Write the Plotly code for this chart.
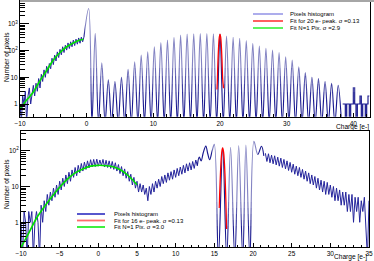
import plotly.graph_objects as go

W, H = 374, 261


def fx(px):
    return px / W


def fy(py):
    return 1 - py / H


# ---------------- DATA ----------------
# top panel: noisy pedestal region, bins of 0.2 e- starting at -10
top_left_start = -10.0
top_left_binw = 0.2
top_left_counts = [1, 0, 2, 1, 3, 0, 2, 4, 1, 3,
                   5, 2, 6, 3, 9, 4, 13, 7, 19, 10,
                   26, 14, 33, 21, 52, 30, 68, 41, 90, 55,
                   112, 70, 140, 85, 160, 105, 195, 120, 215, 140,
                   250, 155, 270, 175, 300, 190, 320, 215, 330]

# top panel: single-electron peaks (position, height) and valleys between them
top_peak_x = [0.3, 1.28, 2.27, 3.25, 4.24, 5.22, 6.21, 7.2, 8.18, 9.16,
              10.15, 11.13, 12.12, 13.1, 14.09, 15.07, 16.06, 17.04, 18.03, 19.01,
              20.0, 20.98, 21.97, 22.95, 23.94, 24.92, 25.9, 26.89, 27.88, 28.86,
              29.85, 30.83, 31.82, 32.8, 33.79, 34.77, 35.76, 36.74, 37.73]
top_peak_counts = [3800, 445, 35, 8, 7, 10, 20, 38, 68, 91,
                   140, 200, 250, 315, 380, 420, 430, 440, 440, 430,
                   420, 355, 316, 290, 237, 188, 150, 122, 105, 84,
                   59, 44, 25, 15, 10, 9, 7, 6, 5]
top_valley_x = [0.79, 1.77, 2.76, 3.74, 4.73, 5.71, 6.7, 7.69, 8.67, 9.66,
                10.64, 11.63, 12.61, 13.6, 14.58, 15.57, 16.55, 17.54, 18.52, 19.5,
                20.49, 21.47, 22.46, 23.44, 24.43, 25.41, 26.4, 27.38, 28.37, 29.35,
                30.34, 31.32, 32.31, 33.29, 34.28, 35.26, 36.25, 37.23, 38.22]
top_valley_counts = [0, 0, 0, 0, 0, 0, 0, 0, 0, 0,
                     0, 0, 0, 0, 0, 0, 0, 0, 0, 0,
                     0, 0, 0, 0, 0, 0, 0, 0, 0, 0,
                     0, 0, 0, 0, 0, 0, 0, 0, 0]
# top panel: tail (bins of 0.2 e- from 38.4)
top_tail_start = 38.4
top_tail_counts = [1, 1, 0, 1, 1, 0, 1, 1, 4, 1, 0, 1, 1, 2, 0, 1, 1, 0, 1, 2, 2]

# top panel fits
top_red_x = [19.54, 19.6, 19.7, 19.8, 19.9, 20.0, 20.1, 20.2, 20.3, 20.4, 20.54]
top_red_y = [3.5, 7.3, 43, 153, 325, 420, 325, 153, 43, 9, 3.9]
top_green_x = [-10, -9, -8, -7, -6, -5, -4, -3, -2, -1, -0.5]
top_green_y = [0.65, 1.4, 2.8, 7.5, 18, 45, 85, 140, 195, 250, 270]

# bottom panel: noisy region left of the peaks, bins of 0.2 e- from -10
bot_left_start = -10.0
bot_left_binw = 0.2
bot_left_counts = [1, 0, 2, 1, 0, 2, 1, 2, 0, 1,
                   2, 1, 0, 3, 1, 4, 2, 6, 3, 7,
                   4, 9, 5, 11, 6, 14, 8, 17, 10, 21,
                   12, 25, 14, 29, 18, 34, 20, 39, 24, 44,
                   27, 48, 30, 52, 33, 56, 35, 57, 36, 58,
                   37, 55, 38, 57, 35, 54, 34, 52, 32, 50,
                   30, 46, 27, 41, 23, 36, 20, 31, 17, 26,
                   14, 22, 11, 18, 9, 14, 7, 12, 7, 11,
                   6, 9, 4, 10, 6, 12, 7, 14, 9, 16,
                   10, 19, 12, 21, 13, 24, 15, 26, 16, 29,
                   18, 32, 20, 35, 22, 39, 24, 43, 27, 46,
                   29, 50, 32, 55, 38]
# bottom panel: peak region
bot_osc_x = [12.8, 13.05, 13.3, 13.55, 13.9, 14.15, 14.4, 14.7, 15.0, 15.52,
             16.08, 16.6, 17.1, 17.65, 18.15, 18.68, 19.08, 19.6, 20.12, 20.62,
             21.1, 21.4]
bot_osc_y = [38, 66, 52, 85, 134, 82, 56, 95, 150, 0,
             119, 0, 124, 0, 140, 0, 144, 0, 183, 78,
             133, 72]
# bottom panel: noisy region right of the peaks, bins of 0.2 e- from 21.6
bot_right_start = 21.6
bot_right_counts = [85, 50, 82, 46, 75, 43, 72, 40, 66, 37,
                    62, 34, 57, 31, 52, 28, 47, 25, 42, 22,
                    37, 20, 34, 18, 30, 16, 27, 14, 24, 12,
                    21, 11, 19, 9, 17, 8, 15, 7, 14, 6,
                    13, 6, 11, 5, 10, 4, 9, 4, 8, 3,
                    7, 3, 7, 2, 6, 2, 6, 1, 5, 2,
                    5, 1, 4, 2, 5, 1, 0, 4]
# bottom panel fits
bot_red_x = [15.62, 15.7, 15.8, 15.9, 16.0, 16.08, 16.2, 16.3, 16.4, 16.5, 16.58]
bot_red_y = [2.5, 7, 25, 63, 106, 119, 90, 46, 16, 3.8, 0.65]
bot_green_x = [-10, -9, -8, -7, -6, -5, -4, -3, -2, -1, 0, 1, 2, 3, 4, 5]
bot_green_y = [0.2, 0.5, 1.3, 2.7, 5.2, 9.5, 16, 24, 31, 37, 39, 38, 35, 28, 19, 11.2]

top_legend = ["Pixels histogram", "Fit for 20 e- peak. σ =0.13", "Fit N=1 Pix. σ =2.9"]
bot_legend = ["Pixels histogram", "Fit for 16 e- peak. σ =0.13", "Fit N=1 Pix. σ =3.0"]
y_ticks = [1, 10, 100, 1000]
y_ticktext = ["1", "10", "10<sup>2</sup>", "10<sup>3</sup>"]
y_minor = [0.3, 0.4, 0.5, 0.6, 0.7, 0.8, 0.9, 2, 3, 4, 5, 6, 7, 8, 9,
           20, 30, 40, 50, 60, 70, 80, 90, 200, 300, 400, 500, 600, 700, 800, 900,
           2000, 3000, 4000, 5000, 6000]

# ---------------- helpers ----------------
def lift(vals, floor):
    return [v if v > 0 else floor for v in vals]


def bins(start, w, n):
    return [round(start + i * w, 4) for i in range(n)]


def interleave(a, b):
    out = []
    for i in range(len(a)):
        out.append(a[i])
        if i < len(b):
            out.append(b[i])
    return out


FLOOR_T = 0.2
FLOOR_B = 0.1
DARK = "#18188e"
NOISE = "#24249c"

top_dom_x = [fx(20), fx(370)]
top_dom_y = [fy(116.7), fy(1.0)]
top_rng = [-0.476, 3.862]
bot_dom_x = [fx(21), fx(369)]
bot_dom_y = [fy(247), fy(131)]
bot_rng = [-0.69, 2.55]

fig = go.Figure()

# ---- top panel ----
osc_x = [-0.4] + interleave(top_peak_x, top_valley_x)
osc_y = [top_left_counts[-1]] + interleave(top_peak_counts, top_valley_counts)
fig.add_trace(go.Scatter(x=osc_x, y=lift(osc_y, FLOOR_T), mode="lines",
                         line=dict(color=DARK, width=1.15, shape="spline", smoothing=1),
                         xaxis="x", yaxis="y", hoverinfo="skip"))
fig.add_trace(go.Scatter(x=bins(top_left_start, top_left_binw, len(top_left_counts)),
                         y=lift(top_left_counts, FLOOR_T), mode="lines",
                         line=dict(color=NOISE, width=1.0),
                         xaxis="x", yaxis="y", hoverinfo="skip"))
fig.add_trace(go.Scatter(x=bins(top_tail_start, 0.2, len(top_tail_counts)),
                         y=lift(top_tail_counts, FLOOR_T), mode="lines",
                         line=dict(color=DARK, width=1.2, shape="hv"),
                         xaxis="x", yaxis="y", hoverinfo="skip"))
fig.add_trace(go.Scatter(x=top_green_x, y=top_green_y, mode="lines",
                         line=dict(color="#00e000", width=1.6, shape="spline"),
                         xaxis="x", yaxis="y", hoverinfo="skip"))
fig.add_trace(go.Scatter(x=top_red_x, y=top_red_y, mode="lines",
                         line=dict(color="#ff0000", width=1.3, shape="spline"),
                         xaxis="x", yaxis="y", hoverinfo="skip"))

# ---- bottom panel ----
fig.add_trace(go.Scatter(x=bins(bot_left_start, bot_left_binw, len(bot_left_counts)),
                         y=lift(bot_left_counts, FLOOR_B), mode="lines",
                         line=dict(color=NOISE, width=1.0),
                         xaxis="x2", yaxis="y2", hoverinfo="skip"))
fig.add_trace(go.Scatter(x=bot_osc_x, y=lift(bot_osc_y, FLOOR_B), mode="lines",
                         line=dict(color=DARK, width=1.15, shape="spline"),
                         xaxis="x2", yaxis="y2", hoverinfo="skip"))
fig.add_trace(go.Scatter(x=bins(bot_right_start, 0.2, len(bot_right_counts)),
                         y=lift(bot_right_counts, FLOOR_B), mode="lines",
                         line=dict(color=NOISE, width=1.0),
                         xaxis="x2", yaxis="y2", hoverinfo="skip"))
fig.add_trace(go.Scatter(x=bot_green_x, y=bot_green_y, mode="lines",
                         line=dict(color="#00e000", width=1.6, shape="spline"),
                         xaxis="x2", yaxis="y2", hoverinfo="skip"))
fig.add_trace(go.Scatter(x=bot_red_x, y=bot_red_y, mode="lines",
                         line=dict(color="#ff0000", width=1.3, shape="spline"),
                         xaxis="x2", yaxis="y2", hoverinfo="skip"))

FONT = "Liberation Sans, Arial, sans-serif"
tickfont = dict(family=FONT, size=6.5, color="black")

common_x = dict(showgrid=False, zeroline=False, showline=True, linecolor="black",
                linewidth=1, mirror=True, ticks="inside", tickcolor="black",
                tickwidth=0.8, tickfont=tickfont, automargin=False)
common_y = dict(type="log", showgrid=False, zeroline=False, showline=True,
                linecolor="black", linewidth=1, mirror=True, ticks="inside",
                tickcolor="black", tickwidth=0.8, ticklen=9, tickfont=tickfont,
                automargin=False, autorange=False,
                tickmode="array", tickvals=y_ticks, ticktext=y_ticktext,
                minor=dict(tickmode="array", tickvals=y_minor, ticks="inside",
                           ticklen=5, tickcolor="black", tickwidth=0.8,
                           showgrid=False))

fig.update_layout(
    width=W, height=H, margin=dict(l=0, r=0, t=0, b=0, pad=0),
    paper_bgcolor="white", plot_bgcolor="rgba(0,0,0,0)", showlegend=False,
    xaxis=dict(common_x, domain=top_dom_x, anchor="y", range=[-10, 42.5],
               autorange=False, tickmode="linear", tick0=0, dtick=10, ticklen=4,
               minor=dict(tick0=0, dtick=2, ticks="inside", ticklen=2.5,
                          tickcolor="black", tickwidth=0.8, showgrid=False)),
    yaxis=dict(common_y, domain=top_dom_y, anchor="x", range=top_rng),
    xaxis2=dict(common_x, domain=bot_dom_x, anchor="y2", range=[-10, 35],
                autorange=False, tickmode="linear", tick0=0, dtick=5, ticklen=4,
                minor=dict(tick0=0, dtick=1, ticks="inside", ticklen=2.5,
                           tickcolor="black", tickwidth=0.8, showgrid=False)),
    yaxis2=dict(common_y, domain=bot_dom_y, anchor="x2", range=bot_rng),
)

shapes = []
annotations = []

# soft white veil, graded in bands so the pale upper flanks fade into dark bases
veil_bands_top = [(100, 92, 0.08), (92, 84, 0.17), (84, 76, 0.27), (76, 68, 0.37),
                  (68, 2.5, 0.47)]
veil_bands_bot = [(226, 220, 0.1), (220, 214, 0.2), (214, 208, 0.3), (208, 202, 0.4),
                  (202, 133, 0.47)]
for y_lo, y_hi, a in veil_bands_top:
    for x0, x1 in ((-0.3, 19.52), (20.56, 42.3)):
        shapes.append(dict(type="rect", xref="x", yref="paper", x0=x0, x1=x1,
                           y0=fy(y_lo), y1=fy(y_hi), line=dict(width=0),
                           fillcolor="rgba(255,255,255,%.2f)" % a, layer="above"))
for y_lo, y_hi, a in veil_bands_bot:
    for x0, x1 in ((14.72, 15.58), (16.62, 20.6)):
        shapes.append(dict(type="rect", xref="x2", yref="paper", x0=x0, x1=x1,
                           y0=fy(y_lo), y1=fy(y_hi), line=dict(width=0),
                           fillcolor="rgba(255,255,255,%.2f)" % a, layer="above"))

# gray strip at the very top
shapes.append(dict(type="rect", xref="paper", yref="paper", x0=fx(20), x1=1.0,
                   y0=fy(1.9), y1=1.0, fillcolor="#a6a6a6", line=dict(width=0),
                   layer="above"))

# legends
legend_colors_top = ["#8a8ae4", "#ff1a1a", "#1aee1a"]
legend_colors_bot = ["#4444c8", "#ff6a6a", "#2aee2a"]
top_rows = [14, 21, 28]
bot_rows = [214, 220.5, 227]
for i in range(3):
    shapes.append(dict(type="line", xref="paper", yref="paper",
                       x0=fx(253), x1=fx(283), y0=fy(top_rows[i]), y1=fy(top_rows[i]),
                       line=dict(color=legend_colors_top[i], width=1.4)))
    annotations.append(dict(xref="paper", yref="paper", x=fx(288), y=fy(top_rows[i]),
                            text=top_legend[i], showarrow=False, xanchor="left",
                            yanchor="middle", font=dict(family=FONT, size=6, color="black")))
    shapes.append(dict(type="line", xref="paper", yref="paper",
                       x0=fx(77), x1=fx(105), y0=fy(bot_rows[i]), y1=fy(bot_rows[i]),
                       line=dict(color=legend_colors_bot[i], width=1.8)))
    annotations.append(dict(xref="paper", yref="paper", x=fx(111.5), y=fy(bot_rows[i]),
                            text=bot_legend[i], showarrow=False, xanchor="left",
                            yanchor="middle", font=dict(family=FONT, size=6, color="black")))

# axis titles
title_font = dict(family=FONT, size=6.6, color="black")
annotations.append(dict(xref="paper", yref="paper", x=fx(7), y=fy(57),
                        text="Number of pixels", textangle=-90, showarrow=False,
                        xanchor="center", yanchor="middle", font=title_font))
annotations.append(dict(xref="paper", yref="paper", x=fx(7), y=fy(184),
                        text="Number of pixels", textangle=-90, showarrow=False,
                        xanchor="center", yanchor="middle", font=title_font))
annotations.append(dict(xref="paper", yref="paper", x=fx(371), y=fy(126.5),
                        text="Charge [e-]", showarrow=False,
                        xanchor="right", yanchor="middle", font=title_font))
annotations.append(dict(xref="paper", yref="paper", x=fx(369), y=fy(256.5),
                        text="Charge [e-]", showarrow=False,
                        xanchor="right", yanchor="middle", font=title_font))

fig.update_layout(shapes=shapes, annotations=annotations)
fig.write_html(
    "out.html",
    config={"displayModeBar": False, "responsive": False},
    post_script="document.body.style.margin='0';document.body.style.padding='0';"
                "document.documentElement.style.overflow='hidden';",
)
